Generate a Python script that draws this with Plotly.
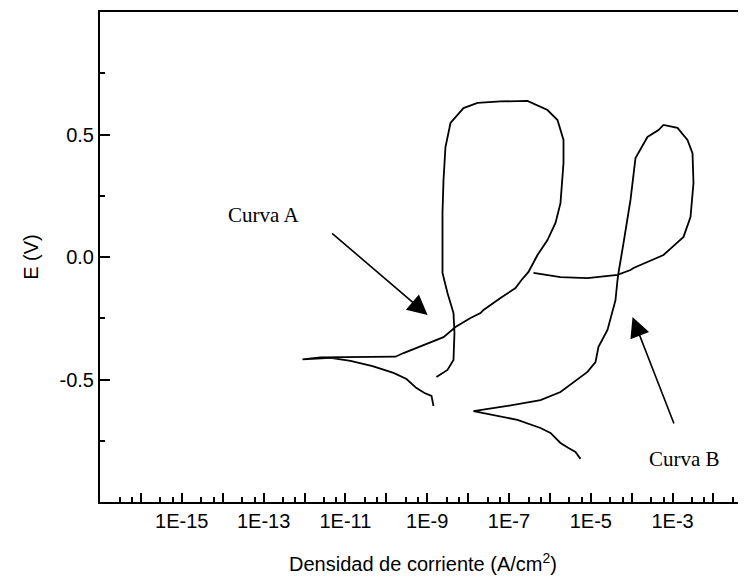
import plotly.graph_objects as go

# Curve A (log10 current density, potential V)
curve_a_logi = [-8.846, -8.895, -9.066, -9.262, -9.506, -9.824, -10.337, -10.875, -11.364, -12.049,
                -11.609, -10.875, -10.264, -9.775, -9.579, -9.335, -9.090, -8.601, -8.308, -7.941,
                -7.697, -7.623, -7.208, -6.841, -6.694, -6.523, -6.303, -6.059, -5.863, -5.741,
                -5.667, -5.667, -5.814, -6.059, -6.548, -7.208, -7.770, -8.112, -8.430, -8.553,
                -8.601, -8.626, -8.626, -8.504, -8.357, -8.333, -8.357, -8.504, -8.773]
curve_a_e = [-0.608, -0.567, -0.555, -0.535, -0.498, -0.473, -0.445, -0.424, -0.412, -0.418,
             -0.410, -0.410, -0.408, -0.407, -0.392, -0.376, -0.359, -0.327, -0.286, -0.249,
             -0.229, -0.216, -0.167, -0.127, -0.094, -0.061, 0.008, 0.069, 0.139, 0.220,
             0.384, 0.478, 0.559, 0.600, 0.637, 0.635, 0.629, 0.608, 0.547, 0.449,
             0.314, 0.180, -0.065, -0.147, -0.229, -0.310, -0.420, -0.461, -0.490]

# Curve B
curve_b_logi = [-5.252, -5.374, -5.545, -5.741, -5.985, -6.230, -6.792, -7.379, -7.868, -7.037,
                -6.230, -5.741, -5.423, -5.081, -4.885, -4.812, -4.592, -4.396, -4.347, -4.323,
                -4.200, -4.029, -3.907, -3.614, -3.345, -3.222, -2.880, -2.636, -2.513, -2.489,
                -2.562, -2.733, -3.002, -3.222, -3.956, -4.029, -4.347, -5.081, -5.741, -6.401]
curve_b_e = [-0.824, -0.796, -0.780, -0.759, -0.718, -0.698, -0.665, -0.645, -0.629, -0.608,
             -0.584, -0.551, -0.510, -0.469, -0.429, -0.367, -0.298, -0.176, -0.094, -0.065,
             0.057, 0.233, 0.404, 0.490, 0.518, 0.539, 0.527, 0.478, 0.424, 0.302,
             0.163, 0.082, 0.041, 0.008, -0.045, -0.053, -0.073, -0.086, -0.082, -0.065]

x_major_exp = list(range(-17, -1))
x_label_exp = [-15, -13, -11, -9, -7, -5, -3]
y_ticks = [-0.5, 0.0, 0.5]
y_ticktext = ["-0.5", "0.0", "0.5"]
y_minor = [-0.75, -0.25, 0.25, 0.75]

curve_a_i = [10 ** v for v in curve_a_logi]
curve_b_i = [10 ** v for v in curve_b_logi]

x_tickvals = [10.0 ** e for e in x_major_exp]
x_ticktext = [("1E%d" % e) if e in x_label_exp else "" for e in x_major_exp]
x_minor = []
for e in x_major_exp:
    x_minor += [3 * 10.0 ** e, 6 * 10.0 ** e]

fig = go.Figure()
fig.add_trace(go.Scatter(x=curve_a_i, y=curve_a_e, mode="lines",
                         line=dict(color="black", width=1.8), showlegend=False))
fig.add_trace(go.Scatter(x=curve_b_i, y=curve_b_e, mode="lines",
                         line=dict(color="black", width=1.8), showlegend=False))

font = "Arial, Liberation Sans, sans-serif"
serif = "Times New Roman, Liberation Serif, serif"

# page body has an 8px margin; figure sized to fit the 746x583 window
fig.update_layout(
    width=738, height=575,
    margin=dict(l=92, r=0, t=4, b=81),
    paper_bgcolor="white", plot_bgcolor="white",
    font=dict(family=font, size=20, color="black"),
    xaxis=dict(
        type="log", range=[-17, -1.205],
        tickmode="array", tickvals=x_tickvals, ticktext=x_ticktext,
        ticks="inside", ticklen=9, tickwidth=1.5, tickcolor="black",
        minor=dict(tickmode="array", tickvals=x_minor, ticks="inside", ticklen=5,
                   tickwidth=1.5, tickcolor="black"),
        showline=True, linecolor="black", linewidth=2, mirror=True,
        showgrid=False, zeroline=False,
        tickfont=dict(size=20, color="black"),
        title=dict(text="Densidad de corriente (A/cm<sup>2</sup>)",
                   font=dict(size=20, color="black"), standoff=26),
    ),
    yaxis=dict(
        range=[-1, 1],
        tickmode="array", tickvals=y_ticks, ticktext=y_ticktext,
        ticks="inside", ticklen=10, tickwidth=1.5, tickcolor="black",
        minor=dict(tickmode="array", tickvals=y_minor, ticks="inside", ticklen=5,
                   tickwidth=1.5, tickcolor="black"),
        showline=True, linecolor="black", linewidth=2, mirror=False,
        showgrid=False, zeroline=False,
        tickfont=dict(size=20, color="black"),
        title=dict(text="E (V)", font=dict(size=20, color="black"), standoff=16),
    ),
    annotations=[
        dict(x=-13.0, y=0.171, xref="x", yref="y", text="Curva A", showarrow=False,
             font=dict(family=serif, size=21, color="black")),
        dict(x=-2.71, y=-0.824, xref="x", yref="y", text="Curva B", showarrow=False,
             font=dict(family=serif, size=21, color="black")),
        dict(x=-8.99, y=-0.237, xref="x", yref="y", text="", showarrow=True,
             ax=-97, ay=-83, arrowhead=2, arrowsize=2.5, arrowwidth=1.6, arrowcolor="black"),
        dict(x=-3.98, y=-0.245, xref="x", yref="y", text="", showarrow=True,
             ax=42, ay=108, arrowhead=2, arrowsize=2.5, arrowwidth=1.6, arrowcolor="black"),
    ],
)

fig.write_html("out.html")
